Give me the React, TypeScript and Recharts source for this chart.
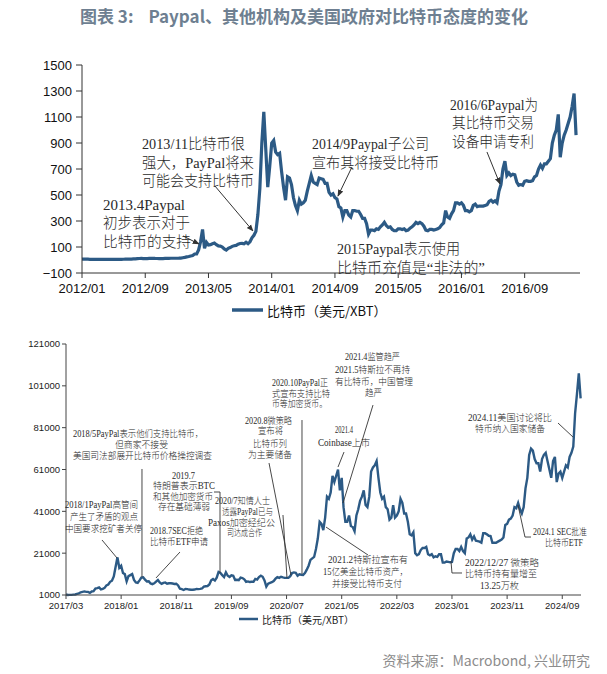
import React from 'react';
import { LineChart, Line, XAxis, YAxis, ReferenceLine } from 'recharts';

const LINE = '#2C5A85';
const INK = '#2a2a2a';
const SANS = "'Liberation Sans', Arial, sans-serif";
const NOTE_FONT = "'Liberation Serif', 'Noto Sans CJK SC', serif";
const CJK = "'Noto Sans CJK SC', sans-serif";

// top chart: USD per XBT, 2012/01 - 2017/03, four readings a month
const p2012 = [6, 7, 6.5, 6, 5.5, 5, 4.8, 5, 4.9, 5, 4.8, 4.9, 4.9, 5, 5.1, 5, 5, 5.1, 5.1, 5.2, 5.4, 5.6, 6.2, 6.6, 6.9, 7.2, 8.7, 9, 10.8, 11.5, 13, 10.5, 10.5, 11, 12, 12.3, 12.5, 11.8, 11.7, 11, 10.9, 11, 11.8, 12.5, 13, 13.4, 13.5, 13.4];
const p2013 = [13.5, 14, 15, 17.5, 20, 24, 27, 31, 34, 46, 47, 78, 140, 235, 90, 135, 115, 118, 125, 130, 118, 108, 107, 100, 85, 76, 90, 96, 105, 110, 112, 122, 127, 128, 125, 136, 125, 140, 170, 190, 220, 350, 550, 900, 1140, 850, 560, 720];
const p2014 = [900, 920, 830, 810, 820, 680, 560, 460, 640, 630, 580, 480, 420, 380, 460, 430, 440, 460, 530, 590, 650, 600, 590, 580, 630, 625, 620, 590, 590, 520, 500, 510, 480, 470, 410, 400, 330, 380, 380, 345, 330, 380, 380, 375, 375, 350, 320, 320];
const p2015 = [280, 200, 230, 230, 225, 240, 235, 255, 270, 290, 265, 250, 255, 235, 225, 225, 240, 240, 235, 240, 225, 230, 245, 255, 270, 290, 280, 290, 280, 260, 230, 225, 235, 235, 230, 235, 240, 250, 270, 285, 380, 330, 320, 355, 380, 440, 440, 430];
const p2016 = [440, 420, 380, 380, 370, 380, 420, 430, 410, 415, 415, 415, 420, 425, 450, 460, 445, 455, 440, 530, 580, 700, 760, 650, 670, 650, 660, 655, 600, 575, 580, 575, 605, 610, 605, 605, 610, 640, 650, 700, 730, 705, 740, 740, 760, 780, 900, 960];
const p2017 = [1000, 1120, 790, 900, 960, 1000, 1050, 1100, 1180, 1280, 960];

// bottom chart: USD per XBT, 2017/03 - 2024/12, three readings a month
const b2017 = [1250, 1000, 1050, 1080, 1180, 1250, 1550, 1800, 2300, 2500, 2700, 2500, 2500, 2000, 2700, 2800, 4100, 4300, 4600, 3700, 3900, 4400, 5600, 6000, 7300, 7800, 9900, 14500, 19000, 14000];
const b2018 = [15000, 11500, 11000, 7500, 10000, 10500, 11000, 8200, 7000, 6800, 8000, 9300, 9500, 8300, 7500, 7600, 6500, 6200, 6600, 7400, 8200, 7000, 6300, 6800, 7000, 6400, 6600, 6600, 6500, 6300, 6400, 5600, 4000, 3800, 3400, 3900];
const b2019 = [3800, 3600, 3500, 3500, 3600, 3900, 3800, 3900, 4100, 5000, 5200, 5300, 6000, 8000, 8600, 7900, 9300, 12000, 11500, 10500, 9600, 11800, 10200, 9600, 10400, 10200, 8200, 8300, 8100, 9300, 9100, 8500, 7300, 7500, 7200, 7300];
const b2020 = [7300, 8700, 8400, 9600, 10200, 9700, 8000, 5000, 6400, 6800, 7100, 7700, 8800, 9500, 9200, 9700, 9400, 9200, 9200, 9200, 10000, 11500, 11800, 11600, 10200, 10900, 10700, 10600, 11500, 13100, 15000, 17800, 18500, 19200, 23000, 28000];
const b2021 = [36000, 35000, 32000, 38000, 48000, 47000, 50000, 58000, 55000, 58000, 61000, 51000, 57000, 43000, 36000, 36000, 39000, 34000, 33500, 31500, 39000, 42000, 46000, 48000, 51000, 44000, 43000, 48000, 60000, 62000, 63000, 65000, 57000, 50000, 47000, 48000];
const b2022 = [43000, 42000, 37000, 38000, 44000, 38000, 39000, 41000, 47000, 45000, 40000, 40000, 36000, 30000, 29500, 31000, 21000, 20000, 20500, 22500, 23500, 23500, 24000, 20500, 20000, 20500, 19000, 19500, 19200, 20500, 20500, 16500, 16500, 17000, 16800, 16600];
const b2023 = [16800, 21000, 23000, 23000, 22000, 24000, 22000, 21000, 28000, 28500, 30000, 27500, 29000, 27000, 26800, 26500, 26000, 30500, 30500, 30000, 29300, 29200, 26000, 26000, 26000, 26500, 27000, 27500, 28500, 34500, 35000, 37000, 37500, 39000, 43000, 42500];
const b2024 = [45000, 42000, 40000, 43000, 52000, 57000, 68000, 71000, 70000, 66000, 64000, 64000, 60000, 66000, 68000, 69000, 65000, 61000, 57000, 65000, 67000, 55000, 59000, 60000, 57000, 60000, 63000, 62000, 67000, 69000, 72000, 88000, 97000, 107000, 95000];

const topTickMonths = [0, 8, 16, 24, 32, 40, 48, 56];
const topTickLabels = ['2012/01', '2012/09', '2013/05', '2014/01', '2014/09', '2015/05', '2016/01', '2016/09'];
const topYTicks = [-100, 100, 300, 500, 700, 900, 1100, 1300, 1500];

const botTickMonths = [0, 10, 20, 30, 40, 50, 60, 70, 80, 90];
const botTickLabels = ['2017/03', '2018/01', '2018/11', '2019/09', '2020/07', '2021/05', '2022/03', '2023/01', '2023/11', '2024/09'];
const botYTicks = [1000, 21000, 41000, 61000, 81000, 101000, 121000];

const monthsFrom = (start: number, perMonth: number, values: number[]) =>
  values.map((v, i) => ({ t: start + i / perMonth, v }));

const topData = [
  ...monthsFrom(0, 4, p2012),
  ...monthsFrom(12, 4, p2013),
  ...monthsFrom(24, 4, p2014),
  ...monthsFrom(36, 4, p2015),
  ...monthsFrom(48, 4, p2016),
  ...monthsFrom(60, 4, p2017),
];

const botData = [
  ...monthsFrom(0, 3, b2017),
  ...monthsFrom(10, 3, b2018),
  ...monthsFrom(22, 3, b2019),
  ...monthsFrom(34, 3, b2020),
  ...monthsFrom(46, 3, b2021),
  ...monthsFrom(58, 3, b2022),
  ...monthsFrom(70, 3, b2023),
  ...monthsFrom(82, 3, b2024),
];

// arrows of the top chart, in (month, price)
const topArrows = [
  [[12.78, 185], [14.8, 123]],
  [[16.82, 569], [21.63, 223]],
  [[34.15, 715], [32.38, 492]],
  [[51.23, 831], [52.87, 585]],
];

// leader lines of the bottom chart, in (month, price)
const botLeaders = [
  [[13.78, 61240], [13.78, 9600]],
  [[6.53, 27300], [9.25, 18690]],
  [[20.67, 21550], [16.32, 9130]],
  [[26.84, 50240], [27.93, 50240], [27.93, 11520]],
  [[39.35, 39240], [40.08, 9130]],
  [[36.82, 64100], [40.8, 10560]],
  [[42.8, 84650], [42.8, 11040]],
  [[55.68, 91820], [50.24, 44980]],
  [[50.42, 69350], [49.33, 62180]],
  [[54.77, 20120], [47.15, 33500]],
  [[69.82, 17250], [70.0, 11520], [71.82, 11520]],
  [[81.97, 44020], [83.24, 28720], [84.33, 28720]],
  [[89.23, 83220], [91.95, 76520]],
];

const topNotes = [
  { x: 103, y: 205, w: 82, s: '2013.4Paypal' },
  { x: 103, y: 223, w: 87, s: '初步表示对于' },
  { x: 103, y: 242, w: 88, s: '比特币的支持' },
  { x: 142, y: 144, w: 103, s: '2013/11比特币很' },
  { x: 142, y: 163, w: 112, s: '强大，PayPal将来' },
  { x: 142, y: 181, w: 112, s: '可能会支持比特币' },
  { x: 312, y: 144, w: 117, s: '2014/9Paypal子公司' },
  { x: 312, y: 163, w: 127, s: '宣布其将接受比特币' },
  { x: 450, y: 105, w: 88, s: '2016/6Paypal为' },
  { x: 452, y: 123, w: 82, s: '其比特币交易' },
  { x: 452, y: 142, w: 82, s: '设备申请专利' },
  { x: 337, y: 249, w: 123, s: '2015Paypal表示使用' },
  { x: 337, y: 268, w: 148, s: '比特币充值是“非法的”' },
];

const botNotes = [
  { x: 73, y: 434, w: 130, s: '2018/5PayPal表示他们支持比特币，' },
  { x: 115, y: 445, w: 53, s: '但商家不接受' },
  { x: 73, y: 456, w: 139, s: '美国司法部展开比特币价格操控调查' },
  { x: 65, y: 505, w: 73, s: '2018/1PayPal高管间' },
  { x: 70, y: 517, w: 68, s: '产生了矛盾的观点' },
  { x: 65, y: 529, w: 77, s: '中国要求挖矿者关停' },
  { x: 150, y: 531, w: 53, s: '2018.7SEC拒绝' },
  { x: 150, y: 542, w: 58, s: '比特币ETF申请' },
  { x: 172, y: 476, w: 23, s: '2019.7' },
  { x: 153, y: 486, w: 62, s: '特朗普表示BTC' },
  { x: 153, y: 497, w: 60, s: '和其他加密货币' },
  { x: 158, y: 507, w: 52, s: '存在基础薄弱' },
  { x: 215, y: 501, w: 55, s: '2020/7知情人士' },
  { x: 222, y: 512, w: 51, s: '透露PayPal已与' },
  { x: 208, y: 523, w: 67, s: 'Paxos加密经纪公' },
  { x: 227, y: 533, w: 35, s: '司达成合作' },
  { x: 245, y: 421, w: 47, s: '2020.8微策略' },
  { x: 258, y: 431, w: 25, s: '宣布将' },
  { x: 253, y: 444, w: 34, s: '比特币列' },
  { x: 248, y: 455, w: 44, s: '为主要储备' },
  { x: 272, y: 383, w: 56, s: '2020.10PayPal正' },
  { x: 272, y: 394, w: 58, s: '式宣布支持比特' },
  { x: 272, y: 404, w: 55, s: '币等加密货币。' },
  { x: 345, y: 357, w: 55, s: '2021.4监管趋严' },
  { x: 335, y: 370, w: 75, s: '2021.5特斯拉不再持' },
  { x: 335, y: 382, w: 78, s: '有比特币，中国管理' },
  { x: 365, y: 393, w: 17, s: '趋严' },
  { x: 335, y: 430, w: 18, s: '2021.4' },
  { x: 318, y: 443, w: 52, s: 'Coinbase上市' },
  { x: 328, y: 560, w: 80, s: '2021.2特斯拉宣布有' },
  { x: 323, y: 572, w: 85, s: '15亿美金比特币资产，' },
  { x: 332, y: 584, w: 70, s: '并接受比特币支付' },
  { x: 465, y: 563, w: 74, s: '2022/12/27 微策略' },
  { x: 465, y: 574, w: 72, s: '比特币持有量增至' },
  { x: 480, y: 586, w: 39, s: '13.25万枚' },
  { x: 533, y: 532, w: 54, s: '2024.1 SEC批准' },
  { x: 545, y: 543, w: 38, s: '比特币ETF' },
  { x: 468, y: 418, w: 84, s: '2024.11美国讨论将比' },
  { x: 475, y: 429, w: 70, s: '特币纳入国家储备' },
];

const arrowShape = (p: any) => (
  <line x1={p.x1} y1={p.y1} x2={p.x2} y2={p.y2} stroke="#333" strokeWidth={1} markerEnd="url(#ah)" />
);

const Note = ({ n, size }: { n: { x: number; y: number; w: number; s: string }; size: number }) => (
  <text
    x={n.x}
    y={n.y}
    textLength={n.w}
    lengthAdjust="spacingAndGlyphs"
    dominantBaseline="central"
    fontSize={size}
    fontFamily={NOTE_FONT}
    fontWeight={300}
    fill={INK}
  >
    {n.s}
  </text>
);

const minus = (v: number) => (v < 0 ? `\u2212${-v}` : `${v}`);

export default function App() {
  return (
    <div style={{ position: 'absolute', left: 0, top: 0, width: 607, height: 674, background: '#fff', overflow: 'hidden' }}>
      <svg width={0} height={0} style={{ position: 'absolute' }}>
        <defs>
          <marker id="ah" viewBox="0 0 10 10" refX={9} refY={5} markerWidth={7} markerHeight={7} orient="auto">
            <path d="M0,1 L10,5 L0,9 z" fill="#333" />
          </marker>
        </defs>
      </svg>

      <div
        style={{
          position: 'absolute',
          left: 80,
          top: 5,
          fontFamily: CJK,
          fontWeight: 700,
          fontSize: 17,
          lineHeight: '22px',
          color: '#6E7F91',
          whiteSpace: 'nowrap',
        }}
      >
        <span>图表 3:</span>
        <span style={{ marginLeft: 15 }}>Paypal、其他机构及美国政府对比特币态度的变化</span>
      </div>

      <div style={{ position: 'absolute', left: 0, top: 0 }}>
        <LineChart width={607} height={310} data={topData} margin={{ top: 65, right: 27, left: 22, bottom: 7 }}>
          <XAxis
            type="number"
            dataKey="t"
            domain={[0, 63]}
            ticks={topTickMonths}
            interval={0}
            tickFormatter={(v) => topTickLabels[topTickMonths.indexOf(v)]}
            stroke="#333"
            tickSize={5}
            tickMargin={6}
            height={30}
            tick={{ fill: '#111', fontSize: 13, fontFamily: SANS }}
          />
          <YAxis
            type="number"
            domain={[-100, 1500]}
            ticks={topYTicks}
            interval={0}
            tickFormatter={minus}
            stroke="#333"
            width={60}
            tickSize={6}
            tickMargin={4}
            tick={{ fill: '#111', fontSize: 13, fontFamily: SANS }}
          />
          <Line type="linear" dataKey="v" stroke={LINE} strokeWidth={3.2} dot={false} isAnimationActive={false} />
          {topArrows.map((a, i) => (
            <ReferenceLine
              key={i}
              segment={[{ x: a[0][0], y: a[0][1] }, { x: a[1][0], y: a[1][1] }]}
              ifOverflow="visible"
              shape={arrowShape}
            />
          ))}
        </LineChart>
      </div>

      <div style={{ position: 'absolute', left: 0, top: 300 }}>
        <LineChart width={607} height={320} data={botData} margin={{ top: 44, right: 26, left: 16, bottom: 5 }}>
          <XAxis
            type="number"
            dataKey="t"
            domain={[0, 93.4]}
            ticks={botTickMonths}
            interval={0}
            tickFormatter={(v) => botTickLabels[botTickMonths.indexOf(v)]}
            stroke="#444"
            tickSize={4}
            tickMargin={3}
            height={20}
            tick={{ fill: '#222', fontSize: 9.5, fontFamily: SANS }}
          />
          <YAxis
            type="number"
            domain={[1000, 121000]}
            ticks={botYTicks}
            interval={0}
            stroke="#444"
            width={50}
            tickSize={4}
            tickMargin={2}
            tick={{ fill: '#222', fontSize: 9.5, fontFamily: SANS }}
          />
          <Line type="linear" dataKey="v" stroke={LINE} strokeWidth={2.4} dot={false} isAnimationActive={false} />
          {botLeaders.flatMap((pts, i) =>
            pts.slice(1).map((p, j) => (
              <ReferenceLine
                key={`${i}-${j}`}
                segment={[{ x: pts[j][0], y: pts[j][1] }, { x: p[0], y: p[1] }]}
                ifOverflow="visible"
                stroke="#333"
                strokeWidth={0.9}
              />
            ))
          )}
        </LineChart>
      </div>

      <svg width={607} height={674} style={{ position: 'absolute', left: 0, top: 0, pointerEvents: 'none' }}>
        {topNotes.map((n, i) => (
          <Note key={`t${i}`} n={n} size={14.5} />
        ))}
        {botNotes.map((n, i) => (
          <Note key={`b${i}`} n={n} size={9.5} />
        ))}

        <line x1={232} y1={310} x2={263} y2={310} stroke={LINE} strokeWidth={3.5} />
        <text x={267} y={310} dominantBaseline="central" fontSize={13} fontFamily={CJK} fill="#111">
          比特币（美元/XBT）
        </text>

        <line x1={239} y1={619} x2={258} y2={619} stroke={LINE} strokeWidth={2.5} />
        <text x={262} y={619} dominantBaseline="central" fontSize={10} fontFamily={CJK} fill="#222">
          比特币（美元/XBT）
        </text>

        <text x={590} y={660} textAnchor="end" dominantBaseline="central" fontSize={14} fontFamily={CJK} fill="#8C8C8C">
          资料来源：Macrobond, 兴业研究
        </text>
      </svg>
    </div>
  );
}
